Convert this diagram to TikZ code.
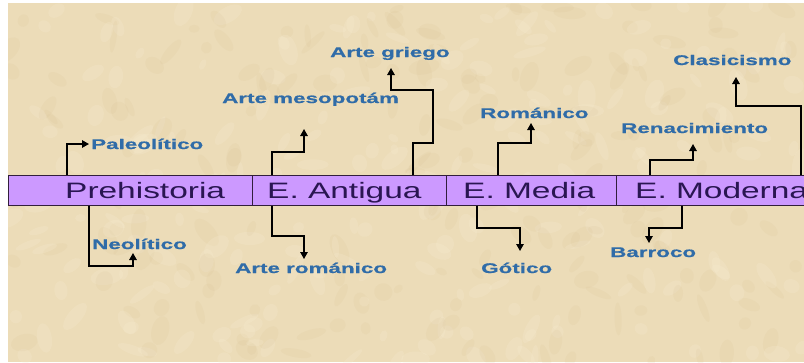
\documentclass[tikz,border=0pt]{standalone}
\usepackage{fontspec}
\usetikzlibrary{arrows.meta}
\setmainfont{Liberation Sans}
\newfontfamily\barfont{Liberation Sans}[FakeStretch=1.5]
\newfontfamily\lblfont{Liberation Sans Bold}[FakeStretch=1.6,FakeBold=0.6]
\definecolor{parch}{RGB}{236,220,184}
\definecolor{parchdark}{RGB}{212,188,142}
\definecolor{parchlight}{RGB}{248,238,212}
\definecolor{barfill}{RGB}{204,153,255}
\definecolor{barline}{RGB}{50,30,60}
\definecolor{bartext}{RGB}{42,22,82}
\definecolor{lbltext}{RGB}{48,108,168}
\tikzset{
  cell/.style={draw=barline, line width=1.1pt, fill=barfill, minimum height=30pt, inner sep=0pt, anchor=north west},
  celltext/.style={font=\barfont\fontsize{22.3}{26}\selectfont, text=bartext, anchor=base west, inner sep=0pt},
  lbl/.style={font=\lblfont\fontsize{14}{16}\selectfont, text=lbltext, anchor=base west, inner sep=0pt},
  arr/.style={draw=black, line width=1.3pt, -{Triangle[length=7pt,width=7.5pt]}}
}
\begin{document}
\begin{tikzpicture}[x=1pt,y=-1pt]
\clip (0,0) rectangle (804,362);
\fill[white] (0,0) rectangle (804,362);
\fill[parch] (8,3) rectangle (804,362);
\begin{scope}
\clip (8,3) rectangle (804,362);
\pgfmathsetseed{7}
\foreach \i in {1,...,420}{
  \pgfmathsetmacro\cx{8+796*rnd}
  \pgfmathsetmacro\cy{3+359*rnd}
  \pgfmathsetmacro\rx{5+12*rnd}
  \pgfmathsetmacro\ry{3+6*rnd}
  \pgfmathsetmacro\ang{180*rnd}
  \pgfmathsetmacro\pick{rnd}
  \ifdim\pick pt<0.5pt
    \fill[parchdark, opacity=0.12, rotate around={\ang:(\cx,\cy)}] (\cx,\cy) ellipse [x radius=\rx, y radius=\ry];
  \else
    \fill[parchlight, opacity=0.22, rotate around={\ang:(\cx,\cy)}] (\cx,\cy) ellipse [x radius=\rx, y radius=\ry];
  \fi
}
\end{scope}
% bar cells
\node[cell, minimum width=244pt] (pre) at (8,174.5) {};
\node[cell, minimum width=194pt] (ant) at (252,174.5) {};
\node[cell, minimum width=170pt] (med) at (446,174.5) {};
\node[cell, minimum width=200pt] (mod) at (616,174.5) {};
\node[celltext] (tpre) at (65,198) {Prehistoria};
\node[celltext] (tant) at (267,198) {E. Antigua};
\node[celltext] (tmed) at (463,198) {E. Media};
\node[celltext] (tmod) at (635,198) {E. Moderna};
% labels
\node[lbl] (paleo) at (91,149) {Paleolítico};
\node[lbl] (neo) at (92,249) {Neolítico};
\node[lbl] (meso) at (222,103) {Arte mesopotám};
\node[lbl] (grie) at (330,57) {Arte griego};
\node[lbl] (aro) at (235,273) {Arte románico};
\node[lbl] (rom) at (480,118) {Románico};
\node[lbl] (got) at (481,273) {Gótico};
\node[lbl] (ren) at (621,133) {Renacimiento};
\node[lbl] (cla) at (673,65) {Clasicismo};
\node[lbl] (bar) at (610,257) {Barroco};
% arrow tips
\coordinate (tpaleo) at (89,144);
\coordinate (tneo) at (133,253);
\coordinate (tmeso) at (304,129);
\coordinate (tgrie) at (391,68);
\coordinate (taro) at (304,259);
\coordinate (trom) at (531,123);
\coordinate (tgot) at (520,251);
\coordinate (tren) at (693,144);
\coordinate (tcla) at (736,77);
\coordinate (tbar) at (649,243);
% connectors
\draw[arr] (pre.north -| 67,0) |- (tpaleo);
\draw[arr] (pre.south -| 89,0) |- (133,266) -- (tneo);
\draw[arr] (ant.north -| 272,0) |- (304,152) -- (tmeso);
\draw[arr] (ant.north -| 413,0) |- (433,143) |- (391,90) -- (tgrie);
\draw[arr] (ant.south -| 272,0) |- (304,236) -- (taro);
\draw[arr] (med.north -| 498,0) |- (531,143) -- (trom);
\draw[arr] (med.south -| 477,0) |- (520,228) -- (tgot);
\draw[arr] (mod.north -| 650,0) |- (693,160) -- (tren);
\draw[arr] (mod.north -| 801,0) |- (736,106) -- (tcla);
\draw[arr] (mod.south -| 682,0) |- (649,228) -- (tbar);
\end{tikzpicture}
\end{document}
